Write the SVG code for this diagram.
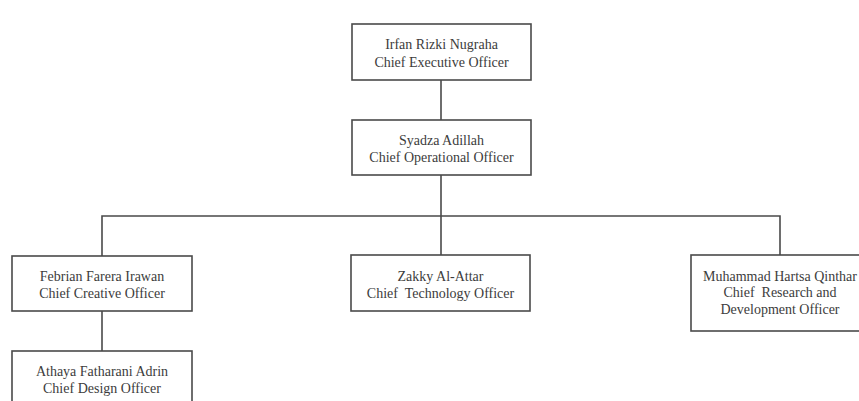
<svg xmlns="http://www.w3.org/2000/svg" width="859" height="401" viewBox="0 0 859 401">
<style>
.box{fill:#ffffff;stroke:#4a4a4a;stroke-width:1.6}
.lbl{font-family:"Liberation Serif","Times New Roman",serif;font-size:14px;fill:#3c3c3c;text-anchor:middle}
.con{fill:none;stroke:#4a4a4a;stroke-width:1.6}
</style>
<rect width="859" height="401" fill="#ffffff"/>
<g id="connectors">
<line class="con" x1="441" y1="80" x2="441" y2="120"/>
<line class="con" x1="441" y1="175" x2="441" y2="216"/>
<polyline class="con" points="102,256 102,216 780,216 780,256"/>
<line class="con" x1="441" y1="216" x2="441" y2="255"/>
<line class="con" x1="102" y1="311" x2="102" y2="351"/>
</g>
<g id="ceo">
<rect class="box" x="352" y="24" width="179" height="56"/>
<text class="lbl" x="441.5" y="49">Irfan Rizki Nugraha</text>
<text class="lbl" x="441.5" y="67">Chief Executive Officer</text>
</g>
<g id="coo">
<rect class="box" x="352" y="120" width="179" height="55"/>
<text class="lbl" x="441.5" y="145">Syadza Adillah</text>
<text class="lbl" x="441.5" y="162">Chief Operational Officer</text>
</g>
<g id="cco">
<rect class="box" x="12" y="256" width="180" height="55"/>
<text class="lbl" x="102" y="281">Febrian Farera Irawan</text>
<text class="lbl" x="102" y="298">Chief Creative Officer</text>
</g>
<g id="cto">
<rect class="box" x="351" y="255" width="179" height="56"/>
<text class="lbl" x="440.5" y="281">Zakky Al-Attar</text>
<text class="lbl" x="440.5" y="298" xml:space="preserve">Chief  Technology Officer</text>
</g>
<g id="crdo">
<rect class="box" x="691" y="255" width="178" height="76"/>
<text class="lbl" x="780" y="281">Muhammad Hartsa Qinthar</text>
<text class="lbl" x="780" y="297" xml:space="preserve">Chief  Research and</text>
<text class="lbl" x="780" y="314">Development Officer</text>
</g>
<g id="cdo">
<rect class="box" x="12" y="351" width="180" height="70"/>
<text class="lbl" x="102" y="376">Athaya Fatharani Adrin</text>
<text class="lbl" x="102" y="393">Chief Design Officer</text>
</g>
</svg>
